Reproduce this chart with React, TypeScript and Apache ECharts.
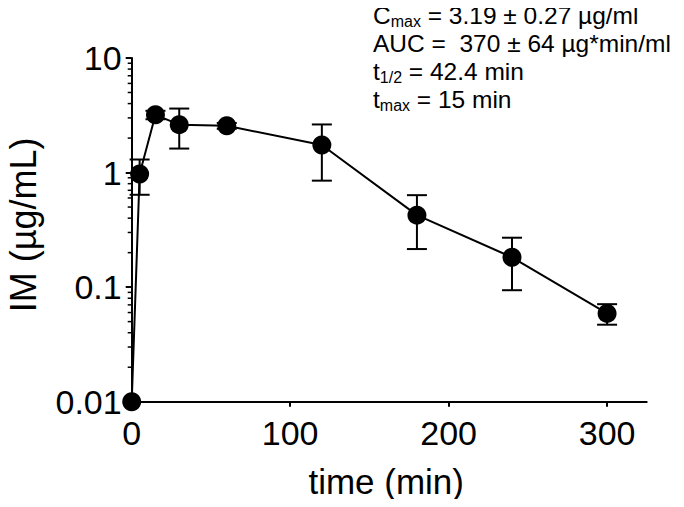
import React, { useEffect, useRef } from "react";
import * as echarts from "echarts";

// ---- data ----
const times = [0, 5, 15, 30, 60, 120, 180, 240, 300];
const means = [0.01, 0.97, 3.19, 2.62, 2.56, 1.74, 0.425, 0.182, 0.059];
const errors = [0, 0.33, 0.27, 1.0, 0.15, 0.89, 0.21, 0.088, 0.012];
const xTicks = [0, 100, 200, 300];
const yTickLabels = ["0.01", "0.1", "1", "10"];
const yMin = 0.01;
const yMax = 10;
const xMin = 0;
const xMax = 325;
const minorMultipliers = [2, 3, 4, 5, 6, 7, 8, 9];
const decades = [0.01, 0.1, 1];

const xTitle = "time (min)";
const yTitle = "IM (µg/mL)";
const annotationLines = [
  "{a|C}{s|max}{a| = 3.19 ± 0.27 µg/ml}",
  "{a|AUC =  370 ± 64 µg*min/ml}",
  "{a|t}{s|1/2}{a| = 42.4 min}",
  "{a|t}{s|max}{a| = 15 min}",
];

const FONT = "'Liberation Sans', Arial, Helvetica, sans-serif";

export default function App() {
  const ref = useRef<HTMLDivElement>(null);

  useEffect(() => {
    if (!ref.current) return;
    const chart = echarts.init(ref.current, undefined, { renderer: "svg" });

    const lineData = times.map((t, i) => [t, means[i]]);
    const errData = times
      .map((t, i) => [t, Math.max(means[i] - errors[i], 1e-6), means[i] + errors[i], errors[i]])
      .filter((d) => d[3] > 0);
    const minorData: number[][] = [];
    decades.forEach((d) => minorMultipliers.forEach((m) => minorData.push([xMin, d * m])));

    const option: any = {
      animation: false,
      backgroundColor: "#ffffff",
      textStyle: { fontFamily: FONT },
      grid: {
        left: 131.7,
        right: 37.3,
        top: 58,
        bottom: 105.3,
        containLabel: false,
        outerBoundsMode: "none",
      },
      xAxis: {
        type: "value",
        min: xMin,
        max: xMax,
        interval: 100,
        name: xTitle,
        nameLocation: "middle",
        nameGap: 62,
        nameTextStyle: { fontSize: 35, color: "#000", fontFamily: FONT, padding: [0, 6, 0, 0] },
        axisLine: { show: true, onZero: false, lineStyle: { color: "#000", width: 2 } },
        axisTick: { show: true, inside: false, length: 5, lineStyle: { color: "#000", width: 2 }, customValues: xTicks },
        axisLabel: { fontSize: 34, color: "#000", margin: 14, fontFamily: FONT, customValues: xTicks },
        splitLine: { show: false },
      },
      yAxis: {
        type: "log",
        logBase: 10,
        min: yMin,
        max: yMax,
        name: yTitle,
        nameLocation: "middle",
        nameGap: 90,
        nameTextStyle: { fontSize: 36, color: "#000", fontFamily: FONT, padding: [0, 0, 0, 10] },
        axisLine: { show: true, onZero: false, lineStyle: { color: "#000", width: 2 } },
        axisTick: { show: true, inside: false, length: 6, lineStyle: { color: "#000", width: 2 } },
        minorTick: { show: false },
        axisLabel: {
          fontSize: 34,
          color: "#000",
          margin: 10,
          fontFamily: FONT,
          formatter: (v: number) => {
            const idx = Math.round(Math.log10(v / yMin));
            return yTickLabels[idx] ?? String(v);
          },
        },
        splitLine: { show: false },
      },
      graphic: [
        {
          type: "text",
          x: 373,
          y: 1,
          z: 10,
          style: {
            text: annotationLines.join("\n"),
            fill: "#000",
            font: `24.5px ${FONT}`,
            verticalAlign: "top",
            align: "left",
            rich: {
              a: { fontSize: 24.5, fontFamily: FONT, lineHeight: 28, fill: "#000" },
              s: { fontSize: 16, fontFamily: FONT, lineHeight: 12, verticalAlign: "bottom", fill: "#000" },
            },
          },
        },
      ],
      series: [
        {
          type: "custom",
          name: "minorTicks",
          data: minorData,
          silent: true,
          z: 1,
          renderItem: (params: any, api: any) => {
            const p = api.coord([api.value(0), api.value(1)]);
            return {
              type: "line",
              shape: { x1: p[0] - 4, y1: p[1], x2: p[0], y2: p[1] },
              style: { stroke: "#000", lineWidth: 1.5 },
            };
          },
        },
        {
          type: "custom",
          name: "errorBars",
          data: errData,
          silent: true,
          z: 2,
          renderItem: (params: any, api: any) => {
            const x = api.value(0);
            const lo = api.coord([x, api.value(1)]);
            const hi = api.coord([x, api.value(2)]);
            const hw = 10;
            const st = { stroke: "#000", lineWidth: 2 };
            return {
              type: "group",
              children: [
                { type: "line", shape: { x1: lo[0], y1: lo[1], x2: hi[0], y2: hi[1] }, style: st },
                { type: "line", shape: { x1: hi[0] - hw, y1: hi[1], x2: hi[0] + hw, y2: hi[1] }, style: st },
                { type: "line", shape: { x1: lo[0] - hw, y1: lo[1], x2: lo[0] + hw, y2: lo[1] }, style: st },
              ],
            };
          },
        },
        {
          type: "line",
          name: "IM",
          data: lineData,
          z: 3,
          symbol: "circle",
          symbolSize: 19,
          showAllSymbol: true,
          clip: false,
          lineStyle: { color: "#000", width: 2 },
          itemStyle: { color: "#000", borderWidth: 0 },
        },
      ],
    };

    chart.setOption(option);
    return () => chart.dispose();
  }, []);

  return <div ref={ref} style={{ width: 684, height: 507, margin: -8 }} />;
}
